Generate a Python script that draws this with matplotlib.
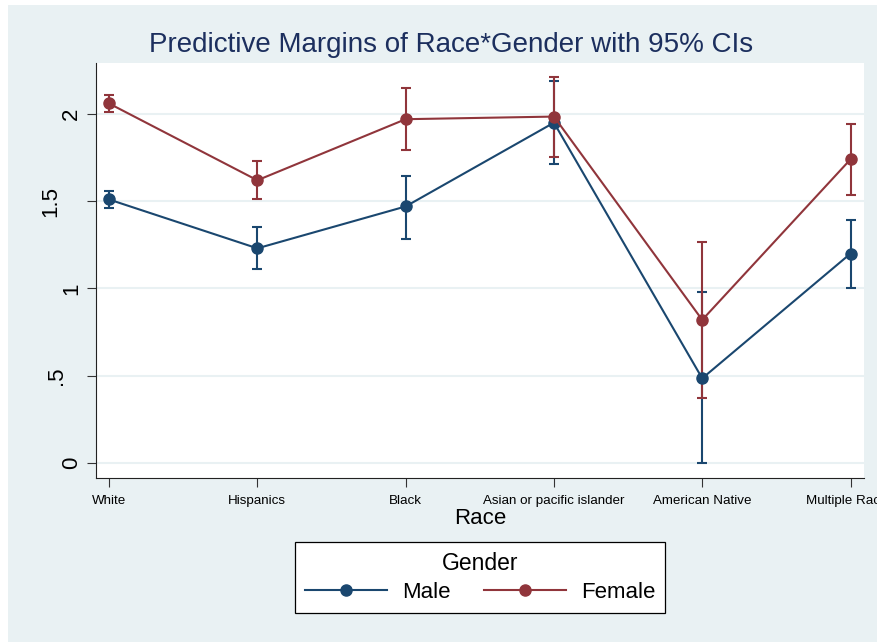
import matplotlib
matplotlib.use("Agg")
import matplotlib.pyplot as plt
import numpy as np
from matplotlib.lines import Line2D
from matplotlib.patches import Rectangle
from matplotlib import transforms

plt.rcParams["font.family"] = ["Liberation Sans", "DejaVu Sans"]

# Predictive margins by race, with 95% confidence limits
races = ["White", "Hispanics", "Black", "Asian or pacific islander",
         "American Native", "Multiple Races"]

male_margin = [1.51, 1.23, 1.47, 1.95, 0.485, 1.20]
male_lo = [1.46, 1.11, 1.285, 1.715, 0.0, 1.00]
male_hi = [1.56, 1.35, 1.645, 2.19, 0.98, 1.395]

female_margin = [2.06, 1.62, 1.97, 1.985, 0.82, 1.74]
female_lo = [2.01, 1.51, 1.795, 1.755, 0.37, 1.535]
female_hi = [2.11, 1.73, 2.15, 2.21, 1.265, 1.94]

y_ticks = [0, 0.5, 1, 1.5, 2]
y_tick_labels = ["0", ".5", "1", "1.5", "2"]

BG = "#e9f1f3"
NAVY = "#1a476f"
MAROON = "#90353b"
TITLE = "#1c2f5e"

W, H = 878, 642
fig = plt.figure(figsize=(W / 100, H / 100), dpi=100, facecolor="white")

# graph region background
fig.patches.append(Rectangle((8 / W, 0), 1 - 8 / W, 1 - 5 / H,
                             transform=fig.transFigure, facecolor=BG,
                             edgecolor="none", zorder=-10))

ax = fig.add_axes([96 / W, 1 - 478 / H, (864 - 96) / W, (478 - 63) / H])
ax.set_facecolor("white")
ax.set_zorder(1)

x = np.arange(len(races))

def draw_ci(vals, lo, hi, color):
    vals, lo, hi = map(np.asarray, (vals, lo, hi))
    ax.errorbar(x, vals, yerr=[vals - lo, hi - vals], fmt="none",
                ecolor=color, elinewidth=1.5, capsize=3.6, capthick=1.5,
                zorder=3)

draw_ci(male_margin, male_lo, male_hi, NAVY)
draw_ci(female_margin, female_lo, female_hi, MAROON)
ax.plot(x, male_margin, color=NAVY, lw=1.5, marker="o", ms=8, zorder=4)
ax.plot(x, female_margin, color=MAROON, lw=1.5, marker="o", ms=8, zorder=5)

ax.set_xlim(-0.088, 5.091)
ax.set_ylim(-0.086, 2.292)

ax.set_yticks(y_ticks)
ax.set_yticklabels([])
ax.yaxis.grid(True, color=BG, lw=1.5)
ax.set_axisbelow(True)

# rotated y tick labels (horizontal offset in pixels from the axis line)
label_shift = {".5": -34, "1.5": -40}
base = transforms.blended_transform_factory(ax.transAxes, ax.transData)
for v, lab in zip(y_ticks, y_tick_labels):
    dx = label_shift.get(lab, -19)
    tr = transforms.offset_copy(base, fig=fig, x=dx, y=0, units="dots")
    ax.text(0, v, lab, transform=tr, rotation=90, rotation_mode="anchor",
            ha="center", va="baseline", fontsize=16, color="black",
            clip_on=False)

ax.set_xticks(x)
ax.set_xticklabels(races, fontsize=9.6)
ax.tick_params(axis="both", length=6.5, width=0.8, color="#333333")
ax.tick_params(axis="x", pad=5.5)

for s in ("top", "right"):
    ax.spines[s].set_visible(False)
for s in ("left", "bottom"):
    ax.spines[s].set_linewidth(0.8)
    ax.spines[s].set_color("#222222")

ax.set_xlabel("Race", fontsize=16, labelpad=1)

fig.text(451 / W, 1 - 45 / H, "Predictive Margins of Race*Gender with 95% CIs",
         ha="center", va="center", fontsize=20, color=TITLE)

handles = [Line2D([], [], color=NAVY, lw=1.5, marker="o", ms=8),
           Line2D([], [], color=MAROON, lw=1.5, marker="o", ms=8)]
leg = fig.legend(handles, ["Male", "Female"], title="Gender", ncol=2,
                 loc="center", bbox_to_anchor=(480 / W, 1 - 577.5 / H),
                 fontsize=16, title_fontsize=16.5, frameon=True,
                 fancybox=False, edgecolor="black", facecolor="white",
                 framealpha=1, handlelength=3.7, handletextpad=0.68,
                 columnspacing=1.5, borderpad=0.45, labelspacing=0.3)
leg.get_frame().set_linewidth(0.9)

fig.savefig("out.png", dpi=100, facecolor=fig.get_facecolor())
